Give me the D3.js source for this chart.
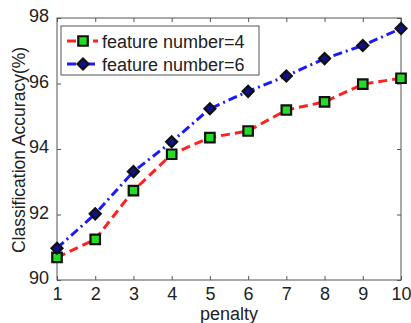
<!DOCTYPE html>
<html><head><meta charset="utf-8">
<script src="https://cdn.jsdelivr.net/npm/d3@7"></script>
<style>body{margin:0;background:#fff}svg{display:block}</style>
</head><body><svg id="c" width="411" height="323"></svg>
<script>
const penalty = [1,2,3,4,5,6,7,8,9,10];
const feature4 = [90.69,91.24,92.73,93.84,94.35,94.55,95.19,95.44,95.98,96.16];
const feature6 = [90.97,92.02,93.31,94.22,95.23,95.76,96.23,96.76,97.16,97.68];
const yTicks = [90,92,94,96,98];
const seriesNames = ["feature number=4","feature number=6"];

const svg = d3.select("#c");
const L=57,R=401,T=18,B=280;
const x = d3.scaleLinear().domain([1,10]).range([L,R]);
const y = d3.scaleLinear().domain([90,98]).range([B,T]);
const font = "Liberation Sans, Arial, sans-serif";
const txt = "#222";
const fs = 18;

svg.append("rect").attr("x",L).attr("y",T).attr("width",R-L).attr("height",B-T)
  .attr("fill","none").attr("stroke","#555").attr("stroke-width",1);

const xb = svg.append("g").attr("transform",`translate(0,${B})`)
  .call(d3.axisBottom(x).tickValues(penalty).tickFormat(d3.format("d")).tickSizeInner(-4).tickSizeOuter(0).tickPadding(7));
const xt = svg.append("g").attr("transform",`translate(0,${T})`)
  .call(d3.axisTop(x).tickValues(penalty).tickFormat("").tickSizeInner(-4).tickSizeOuter(0));
const yl = svg.append("g").attr("transform",`translate(${L},0)`)
  .call(d3.axisLeft(y).tickValues(yTicks).tickFormat(d3.format("d")).tickSizeInner(-4).tickSizeOuter(0).tickPadding(8));
const yr = svg.append("g").attr("transform",`translate(${R},0)`)
  .call(d3.axisRight(y).tickValues(yTicks).tickFormat("").tickSizeInner(-4).tickSizeOuter(0));
[xb,xt,yl,yr].forEach(g=>{
  g.select(".domain").remove();
  g.selectAll("line").attr("stroke","#555");
  g.selectAll("text").attr("font-family",font).attr("font-size",fs).attr("fill",txt);
});
yl.selectAll("text").attr("dy","0.2em");

svg.append("text").attr("x",(L+R)/2).attr("y",320).attr("text-anchor","middle")
  .attr("font-family",font).attr("font-size",fs).attr("fill",txt).text("penalty");
svg.append("text").attr("transform",`translate(25,150) rotate(-90)`).attr("text-anchor","middle")
  .attr("font-family",font).attr("font-size",17.5).attr("fill",txt).text("Classification Accuracy(%)");

const line = d3.line().x((d,i)=>x(penalty[i])).y(d=>y(d));
svg.append("path").datum(feature4).attr("d",line).attr("fill","none")
  .attr("stroke","#ff2020").attr("stroke-width",3).attr("stroke-dasharray","9,5");
svg.append("path").datum(feature6).attr("d",line).attr("fill","none")
  .attr("stroke","#1a1aff").attr("stroke-width",3).attr("stroke-dasharray","9,4,2,4");

const sq = d3.symbol().type(d3.symbolSquare).size(90);
const dm = d3.symbol().type(d3.symbolSquare).size(60);
svg.selectAll(".m4").data(feature4).join("path").attr("d",sq)
  .attr("transform",(d,i)=>`translate(${x(penalty[i])},${y(d)})`)
  .attr("fill","#22dd22").attr("stroke","#111").attr("stroke-width",2.2);
svg.selectAll(".m6").data(feature6).join("path").attr("d",dm)
  .attr("transform",(d,i)=>`translate(${x(penalty[i])},${y(d)}) rotate(45)`)
  .attr("fill","#10108a").attr("stroke","#111").attr("stroke-width",2.2);

// legend
const lg = svg.append("g");
lg.append("rect").attr("x",61).attr("y",26).attr("width",198).attr("height",49)
  .attr("fill","#fff").attr("stroke","#555").attr("stroke-width",1);
const ly = [41,64];
lg.append("line").attr("x1",67).attr("x2",98).attr("y1",ly[0]).attr("y2",ly[0])
  .attr("stroke","#ff2020").attr("stroke-width",3).attr("stroke-dasharray","9,4");
lg.append("path").attr("d",sq).attr("transform",`translate(83,${ly[0]})`)
  .attr("fill","#22dd22").attr("stroke","#111").attr("stroke-width",2.2);
lg.append("line").attr("x1",67).attr("x2",98).attr("y1",ly[1]).attr("y2",ly[1])
  .attr("stroke","#1a1aff").attr("stroke-width",3).attr("stroke-dasharray","9,4,2,4");
lg.append("path").attr("d",dm).attr("transform",`translate(83,${ly[1]}) rotate(45)`)
  .attr("fill","#10108a").attr("stroke","#111").attr("stroke-width",2.2);
seriesNames.forEach((n,i)=>{
  lg.append("text").attr("x",102).attr("y",ly[i]+6.5).attr("font-family",font).attr("font-size",fs)
    .attr("fill",txt).text(n);
});
</script></body></html>
